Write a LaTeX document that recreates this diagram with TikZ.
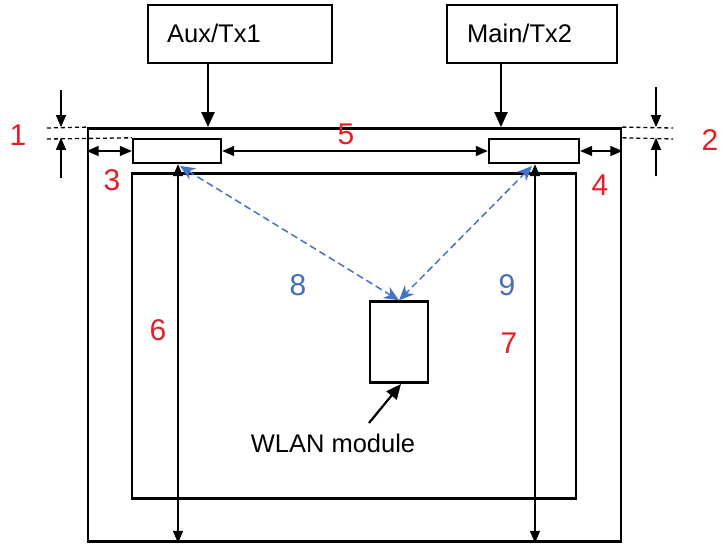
\documentclass[tikz,border=0pt]{standalone}
\usepackage{fontspec}
\setmainfont{Liberation Sans}
\usetikzlibrary{arrows.meta,calc}
\definecolor{dimred}{RGB}{232,28,36}
\definecolor{lblblue}{RGB}{72,110,180}
\definecolor{arrblue}{RGB}{68,114,196}
\begin{document}
\begin{tikzpicture}[x=1pt,y=-1pt,
  box/.style={draw=black,line width=2.4pt,inner sep=0pt,fill=none},
  thickarrow/.style={line width=2.2pt,-{Triangle[length=15pt,width=13pt]}},
  dimarrow/.style={line width=1.3pt,{Triangle[length=12pt,width=10pt]}-{Triangle[length=12pt,width=10pt]}},
  onearrow/.style={line width=1.3pt,-{Triangle[length=12pt,width=10pt]}},
  dimline/.style={line width=1.3pt,dash pattern=on 4pt off 3pt},
  rednum/.style={text=dimred,font=\fontsize{30}{32}\selectfont,inner sep=0pt},
  bluenum/.style={text=lblblue,font=\fontsize{30}{32}\selectfont,inner sep=0pt},
  txt/.style={font=\fontsize{25.5}{28}\selectfont,inner sep=0pt},
  bluearrow/.style={draw=arrblue,line width=1.5pt,dash pattern=on 7pt off 4pt,
    {Stealth[length=15pt,width=13pt,fill=arrblue]}-{Stealth[length=15pt,width=13pt,fill=arrblue]}}
]
\useasboundingbox (0,0) rectangle (724,546);

% main frames
\node[box,line width=2.8pt,minimum width=533pt,minimum height=413pt] (outer) at (354.5,335) {};
\node[box,line width=2.8pt,minimum width=444pt,minimum height=325pt] (inner) at (354,336) {};

% antennas
\node[box,minimum width=88pt,minimum height=24pt] (auxant) at (177,151) {};
\node[box,minimum width=90pt,minimum height=24pt] (mainant) at (534,151) {};

% feed boxes
\node[box,minimum width=184pt,minimum height=58pt] (auxtx) at (240,34) {};
\node[txt,anchor=west] (auxtxt) at (167,33) {Aux/Tx1};
\node[box,minimum width=170pt,minimum height=58pt] (maintx) at (532,34) {};
\node[txt,anchor=west] (maintxt) at (467,33) {Main/Tx2};

% WLAN module
\node[box,minimum width=58pt,minimum height=81pt] (wlan) at (399,342) {};
\node[txt] (wlantxt) at (333,443) {WLAN module};
\coordinate (wlantail) at (369,423);
\coordinate (wlanhead) at (401,384);
\draw[thickarrow] (wlantail) -- (wlanhead);

% feed arrows
\coordinate (fa) at (208,0);
\coordinate (fm) at (501,0);
\draw[thickarrow] (auxtx.south -| fa) -- (outer.north -| fa);
\draw[thickarrow] (maintx.south -| fm) -- (outer.north -| fm);

% dimension 1
\coordinate (d1a) at (47,128);
\coordinate (d1b) at (47,139);
\draw[dimline] (d1a) -- (outer.north west);
\draw[dimline] (d1b) -- (auxant.north west);
\coordinate (d1top) at (61,90);
\coordinate (d1bot) at (61,178);
\draw[onearrow] (d1top) -- (d1top |- outer.north);
\draw[onearrow] (d1bot) -- (d1bot |- auxant.north);
\node[rednum] (n1) at (18,135) {1};

% dimension 2
\coordinate (d2a) at (673,128);
\coordinate (d2b) at (673,139);
\draw[dimline] (outer.north east) -- (d2a);
\draw[dimline] (outer.east |- mainant.north) -- (d2b);
\coordinate (d2top) at (656,87);
\coordinate (d2bot) at (656,176);
\draw[onearrow] (d2top) -- (d2top |- outer.north);
\draw[onearrow] (d2bot) -- (d2bot |- mainant.north);
\node[rednum] (n2) at (710,140) {2};

% horizontal dims
\draw[dimarrow] (outer.west |- auxant.west) -- (auxant.west);
\node[rednum] (n3) at (112,180) {3};
\draw[dimarrow] (auxant.east) -- (mainant.west);
\node[rednum] (n5) at (346,134) {5};
\draw[dimarrow] (mainant.east) -- (outer.east |- mainant.east);
\node[rednum] (n4) at (600,185) {4};

% vertical dims
\coordinate (v6) at (178,0);
\coordinate (v7) at (535,0);
\draw[dimarrow] (auxant.south -| v6) -- (outer.south -| v6);
\node[rednum] (n6) at (158,330) {6};
\draw[dimarrow] (mainant.south -| v7) -- (outer.south -| v7);
\node[rednum] (n7) at (509,343) {7};

% blue paths
\coordinate (b8) at (180,166);
\coordinate (b9) at (532,166);
\draw[bluearrow] (b8) -- (wlan.north);
\draw[bluearrow] (b9) -- (wlan.north);
\node[bluenum] (n8) at (298,285) {8};
\node[bluenum] (n9) at (507,285) {9};
\end{tikzpicture}
\end{document}
